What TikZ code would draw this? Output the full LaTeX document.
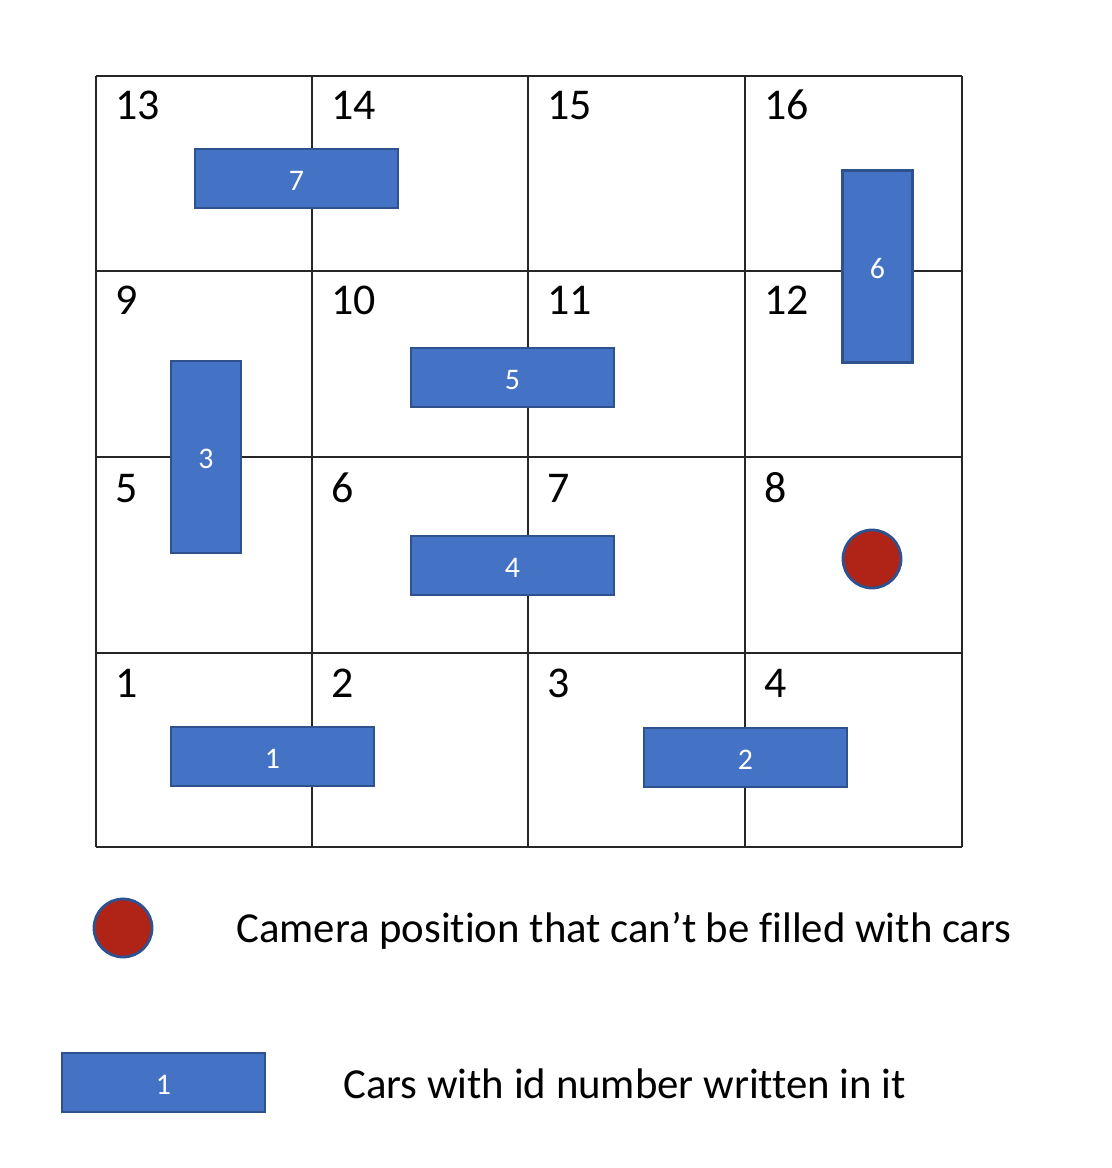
\documentclass[tikz,border=0pt]{standalone}
\usepackage{fontspec}
\setmainfont{Carlito}[Ligatures=NoCommon]
\definecolor{carfill}{HTML}{4472C4}
\definecolor{carline}{HTML}{2F528F}
\definecolor{camfill}{HTML}{B02418}
\begin{document}
\begin{tikzpicture}[x=0.02cm,y=-0.02cm,
  grid/.style={draw=black!85, line width=0.8pt},
  car/.style={draw=carline, fill=carfill, line width=1.6pt, inner sep=0pt, text=white, font=\fontsize{17}{17}\selectfont, text height=13.5pt, text depth=0pt},
  hcar/.style={car, minimum width=4.06cm, minimum height=1.18cm},
  vcar/.style={car, minimum width=1.4cm, minimum height=3.84cm},
  cam/.style={circle, draw=carline, fill=camfill, line width=1.6pt, minimum size=1.16cm, inner sep=0pt},
  num/.style={anchor=base west, inner sep=0pt, font=\fontsize{25}{25}\selectfont},
  legend/.style={anchor=base west, inner sep=0pt, font=\fontsize{24.35}{24.35}\selectfont}]
\useasboundingbox (0,0) rectangle (1111,1168);
% grid
\foreach \x in {96,312,528,745,962} \draw[grid] (\x,76) -- (\x,847);
\foreach \y in {76,271,457,653,847} \draw[grid] (96,\y) -- (962,\y);
% cell numbers
\node[num] (n13) at (115,120) {13};
\node[num] (n14) at (331,120) {14};
\node[num] (n15) at (547,120) {15};
\node[num] (n16) at (764,120) {16};
\node[num] (n9) at (115,315) {9};
\node[num] (n10) at (331,315) {10};
\node[num] (n11) at (547,315) {11};
\node[num] (n12) at (764,315) {12};
\node[num] (n5) at (115,502) {5};
\node[num] (n6) at (331,502) {6};
\node[num] (n7) at (547,502) {7};
\node[num] (n8) at (764,502) {8};
\node[num] (n1) at (115,697) {1};
\node[num] (n2) at (331,697) {2};
\node[num] (n3) at (547,697) {3};
\node[num] (n4) at (764,697) {4};
% cars
\node[hcar] (c7) at (296.5,178.5) {7};
\node[hcar] (c5) at (512.5,377.5) {5};
\node[hcar] (c4) at (512.5,565.5) {4};
\node[hcar] (c1) at (272.5,756.5) {1};
\node[hcar] (c2) at (745.5,757.5) {2};
\node[vcar] (c3) at (206,457) {3};
\node[vcar] (c6) at (877.5,266.5) {6};
% camera
\node[cam] (cam) at (872,559) {};
% legend
\node[cam] (lcam) at (123,928) {};
\node[legend] (ltext1) at (236,942) {Camera position that can’t be filled with cars};
\node[hcar] (lcar) at (163.5,1082.5) {1};
\node[legend] (ltext2) at (343,1098) {Cars with id number written in it};
\end{tikzpicture}
\end{document}
